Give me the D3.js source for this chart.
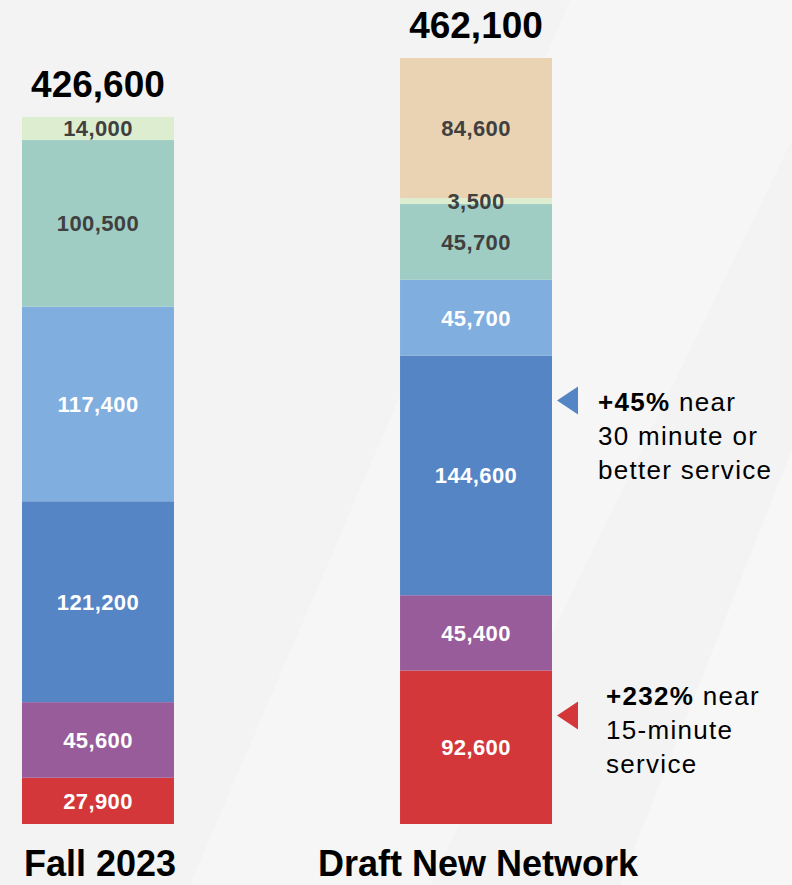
<!DOCTYPE html>
<html>
<head>
<meta charset="utf-8">
<script src="https://cdn.jsdelivr.net/npm/d3@7"></script>
<style>
  html, body { margin: 0; padding: 0; background: #f4f4f4; }
  svg { display: block; font-family: "Liberation Sans", Arial, sans-serif; }
</style>
</head>
<body>
<svg id="chart" width="792" height="885"></svg>
<script>
// ---- Data ----
const categories = ["Fall 2023", "Draft New Network"];
const seriesNames = ["15-minute", "20-minute", "30-minute", "45-minute", "60-minute", "Over 60", "Other"];
const seriesColors = ["#d3373a", "#985c9a", "#5585c5", "#7faedf", "#9fcdc3", "#ddedd0", "#ead3b3"];
const labelColors = ["#ffffff", "#ffffff", "#ffffff", "#ffffff", "#404040", "#404040", "#404040"];
const fall2023 = [27900, 45600, 121200, 117400, 100500, 14000, 0];
const draftNetwork = [92600, 45400, 144600, 45700, 45700, 3500, 84600];
const totals = [426600, 462100];
const annotations = [
  { series: 2, color: "#5585c5", bold: "+45%", lines: [" near", "30 minute or", "better service"], dx: 41, offsets: [10, 44, 78] },
  { series: 0, color: "#d3373a", bold: "+232%", lines: [" near", "15-minute", "service"], dx: 49, offsets: [-11, 23, 57] }
];

// ---- Setup ----
const svg = d3.select("#chart");
const W = 792, H = 885;

// background subtle diagonal light shapes
const bg = svg.append("g");
bg.append("rect").attr("width", W).attr("height", H).attr("fill", "#f3f3f3");
bg.append("polygon").attr("points", "190,885 570,0 792,0 792,140 430,885").attr("fill", "#f6f6f6");
bg.append("polygon").attr("points", "620,885 792,450 792,885").attr("fill", "#f7f7f7");

const x = d3.scaleBand().domain(categories).range([22, 552]).paddingInner(0.598).paddingOuter(0);
const y = d3.scaleLinear().domain([0, 462100]).range([824, 58]);

const data = [fall2023, draftNetwork].map((vals, i) => {
  const o = { category: categories[i] };
  seriesNames.forEach((s, j) => o[s] = vals[j]);
  return o;
});
const stack = d3.stack().keys(seriesNames);
const series = stack(data);

const gBars = svg.append("g");
series.forEach((ser, si) => {
  gBars.selectAll(null).data(ser.filter(d => d[1] - d[0] > 0)).enter()
    .append("rect")
    .attr("x", d => x(d.data.category))
    .attr("width", x.bandwidth())
    .attr("y", d => y(d[1]))
    .attr("height", d => y(d[0]) - y(d[1]))
    .attr("fill", seriesColors[si]);
});

const fmt = d3.format(",");
series.forEach((ser, si) => {
  gBars.selectAll(null).data(ser.filter(d => d[1] - d[0] > 0)).enter()
    .append("text")
    .attr("x", d => x(d.data.category) + x.bandwidth() / 2)
    .attr("y", d => (y(d[0]) + y(d[1])) / 2)
    .attr("dy", "0.36em")
    .attr("text-anchor", "middle")
    .attr("font-size", "22px")
    .attr("font-weight", "bold")
    .attr("letter-spacing", "0.4px")
    .attr("fill", labelColors[si])
    .text(d => fmt(d[1] - d[0]));
});

// totals
svg.selectAll(".total").data(categories).enter()
  .append("text")
  .attr("x", d => x(d) + x.bandwidth() / 2)
  .attr("y", (d, i) => y(totals[i]) - 20)
  .attr("text-anchor", "middle")
  .attr("font-size", "37px")
  .attr("font-weight", "bold")
  .attr("fill", "#000")
  .text((d, i) => fmt(totals[i]));

// category labels
svg.selectAll(".cat").data(categories).enter()
  .append("text")
  .attr("x", d => x(d) + x.bandwidth() / 2 + 2)
  .attr("y", 876)
  .attr("text-anchor", "middle")
  .attr("font-size", "36px")
  .attr("font-weight", "bold")
  .attr("fill", "#000")
  .text(d => d);

// annotations
const barRight = x(categories[1]) + x.bandwidth();
annotations.forEach(a => {
  const seg = series[a.series][1];
  const cy = y(seg[1]) + 45;
  const tipX = barRight + 5;
  svg.append("polygon")
    .attr("points", `${tipX},${cy} ${tipX + 21},${cy - 14} ${tipX + 21},${cy + 14}`)
    .attr("fill", a.color);
  const t = svg.append("text")
    .attr("font-size", "26px")
    .attr("letter-spacing", "1.3px")
    .attr("fill", "#000");
  const tx = tipX + a.dx;
  const l0 = t.append("tspan").attr("x", tx).attr("y", cy + a.offsets[0]);
  l0.append("tspan").attr("font-weight", "bold").text(a.bold);
  l0.append("tspan").text(a.lines[0]);
  t.append("tspan").attr("x", tx).attr("y", cy + a.offsets[1]).text(a.lines[1]);
  t.append("tspan").attr("x", tx).attr("y", cy + a.offsets[2]).text(a.lines[2]);
});
</script>
</body>
</html>
